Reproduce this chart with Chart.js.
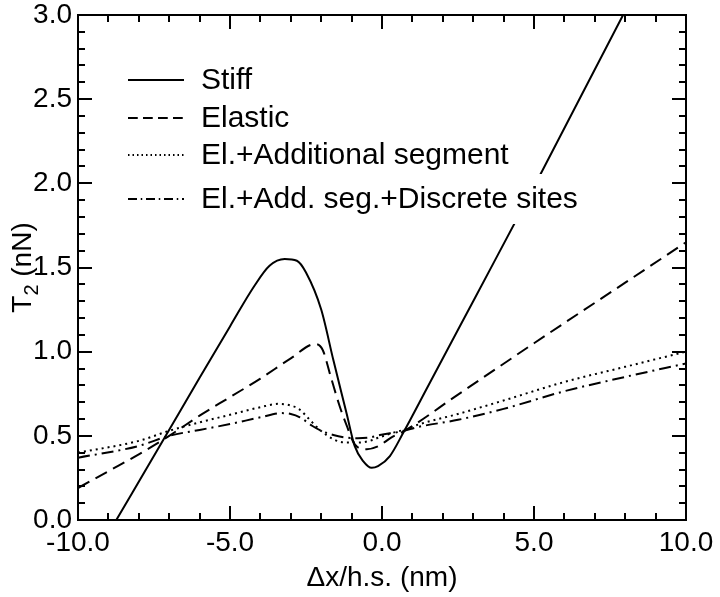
<!DOCTYPE html>
<html lang="en">
<head>
    <meta charset="UTF-8">
    <title>T2 vs dx</title>
    <script src="https://cdn.jsdelivr.net/npm/chart.js@4.4.1/dist/chart.umd.min.js"></script>
    <style>
        body {
            margin: 0;
            background: #ffffff;
        }
        #wrap {
            width: 720px;
            height: 597px;
        }
    </style>
</head>
<body>
    <div id="wrap">
        <canvas id="t2Chart" width="720" height="597"></canvas>
    </div>

    <script>
        // values
        const stiffX = [-8.74, -7.1, -6.0, -5.0, -4.2, -3.7, -3.2, -2.8, -2.5, -2.0, -1.6, -1.16, -0.9, -0.62, -0.34, -0.13, 0.26, 0.69, 1.5, 3.0, 5.0, 7.93, 10.0];
        const stiffY = [0.0, 0.505, 0.845, 1.15, 1.39, 1.51, 1.55, 1.54, 1.47, 1.25, 0.95, 0.63, 0.44, 0.35, 0.31, 0.32, 0.38, 0.515, 0.79, 1.30, 1.98, 3.0, 3.7];

        const elasticX = [-10, -9, -8, -7, -6, -5, -4, -3, -2.2, -1.95, -1.7, -1.4, -1.16, -0.9, -0.5, -0.1, 0.3, 0.7, 2.5, 5, 8, 10];
        const elasticY = [0.19, 0.29, 0.39, 0.50, 0.62, 0.73, 0.84, 0.96, 1.045, 1.01, 0.86, 0.68, 0.56, 0.45, 0.42, 0.44, 0.49, 0.525, 0.745, 1.05, 1.41, 1.65];

        const addSegX = [-10, -8, -7, -6, -5, -4, -3.4, -3.0, -2.7, -2.4, -2.04, -1.6, -1.2, -0.8, -0.4, -0.1, 0.3, 0.7, 1.25, 2.5, 4, 6, 8, 10];
        const addSegY = [0.40, 0.47, 0.53, 0.58, 0.625, 0.67, 0.69, 0.68, 0.655, 0.60, 0.535, 0.48, 0.46, 0.46, 0.47, 0.49, 0.515, 0.535, 0.57, 0.63, 0.71, 0.82, 0.91, 1.0];

        const discreteX = [-10, -8, -7, -6, -5, -4, -3.3, -3.0, -2.7, -2.3, -2.0, -1.6, -1.2, -0.8, -0.4, -0.07, 0.6, 1.25, 2.5, 4, 6, 8, 10];
        const discreteY = [0.37, 0.44, 0.50, 0.535, 0.57, 0.61, 0.635, 0.63, 0.61, 0.56, 0.53, 0.505, 0.49, 0.485, 0.49, 0.505, 0.525, 0.555, 0.595, 0.66, 0.765, 0.85, 0.93];

        const seriesNames = ['Stiff', 'Elastic', 'El.+Additional segment', 'El.+Add. seg.+Discrete sites'];

        const xTickLabels = ['-10.0', '-5.0', '0.0', '5.0', '10.0'];
        const yTickLabels = ['0.0', '0.5', '1.0', '1.5', '2.0', '2.5', '3.0'];

        const FONT = '"Liberation Sans", Arial, Helvetica, sans-serif';

        function toPoints(xs, ys) {
            return xs.map((x, i) => ({ x: x, y: ys[i] }));
        }

        function lineSet(label, xs, ys, dash) {
            return {
                label: label,
                data: toPoints(xs, ys),
                borderColor: '#000000',
                borderWidth: 2,
                borderDash: dash,
                pointRadius: 0,
                fill: false,
                cubicInterpolationMode: 'monotone'
            };
        }

        // inward ticks on all four sides + box frame
        const frameTicks = {
            id: 'frameTicks',
            afterDraw(chart) {
                const ctx = chart.ctx;
                const a = chart.chartArea;
                const xs = chart.scales.x;
                const ys = chart.scales.y;
                ctx.save();
                ctx.strokeStyle = '#000';
                ctx.lineWidth = 2;
                ctx.strokeRect(a.left, a.top, a.right - a.left, a.bottom - a.top);
                ctx.beginPath();
                xs.ticks.forEach(t => {
                    const px = Math.round(xs.getPixelForValue(t.value));
                    const len = Math.abs(t.value % 5) < 1e-6 ? 14 : 7;
                    ctx.moveTo(px, a.bottom);
                    ctx.lineTo(px, a.bottom - len);
                    ctx.moveTo(px, a.top);
                    ctx.lineTo(px, a.top + len);
                });
                ys.ticks.forEach(t => {
                    const py = Math.round(ys.getPixelForValue(t.value));
                    const r = Math.round(t.value * 10);
                    const len = r % 5 === 0 ? 14 : 7;
                    ctx.moveTo(a.left, py);
                    ctx.lineTo(a.left + len, py);
                    ctx.moveTo(a.right, py);
                    ctx.lineTo(a.right - len, py);
                });
                ctx.stroke();
                ctx.restore();
            }
        };

        // y title with a real subscript: T, small 2, (nN)
        const yTitle = {
            id: 'yTitle',
            afterDraw(chart) {
                const ctx = chart.ctx;
                const a = chart.chartArea;
                const big = '28px ' + FONT;
                const small = '20px ' + FONT;
                ctx.save();
                ctx.font = big;
                const wT = ctx.measureText('T').width;
                const wRest = ctx.measureText(' (nN)').width;
                ctx.font = small;
                const w2 = ctx.measureText('2').width;
                const total = wT + w2 + wRest;
                ctx.translate(31, (a.top + a.bottom) / 2);
                ctx.rotate(-Math.PI / 2);
                ctx.fillStyle = '#000';
                ctx.textBaseline = 'alphabetic';
                let x = -total / 2;
                ctx.font = big;
                ctx.fillText('T', x, 0);
                x += wT;
                ctx.font = small;
                ctx.fillText('2', x, 7);
                x += w2;
                ctx.font = big;
                ctx.fillText(' (nN)', x, 0);
                ctx.restore();
            }
        };

        // legend inside the plot, each text on a white box
        const innerLegend = {
            id: 'innerLegend',
            afterDatasetsDraw(chart) {
                const ctx = chart.ctx;
                const rowsY = [80, 118, 155, 199];
                ctx.save();
                ctx.font = '30px ' + FONT;
                ctx.textBaseline = 'middle';
                chart.data.datasets.forEach((ds, i) => {
                    const y = rowsY[i];
                    const w = ctx.measureText(ds.label).width;
                    ctx.fillStyle = '#ffffff';
                    ctx.fillRect(196, y - 25, w + 10, 50);
                    ctx.strokeStyle = ds.borderColor;
                    ctx.lineWidth = 2;
                    ctx.setLineDash(ds.borderDash.map(d => d * 0.75));
                    ctx.beginPath();
                    ctx.moveTo(128, y);
                    ctx.lineTo(184, y);
                    ctx.stroke();
                    ctx.setLineDash([]);
                    ctx.fillStyle = '#000';
                    ctx.fillText(ds.label, 201, y + 1);
                });
                ctx.restore();
            }
        };

        const ctx = document.getElementById('t2Chart').getContext('2d');
        const t2Chart = new Chart(ctx, {
            type: 'line',
            data: {
                datasets: [
                    lineSet(seriesNames[0], stiffX, stiffY, []),
                    lineSet(seriesNames[1], elasticX, elasticY, [13, 7]),
                    lineSet(seriesNames[2], addSegX, addSegY, [2, 4]),
                    lineSet(seriesNames[3], discreteX, discreteY, [12, 5, 2, 5])
                ]
            },
            options: {
                responsive: false,
                animation: false,
                layout: {
                    padding: { left: 0, right: 34, top: 15, bottom: 0 }
                },
                plugins: {
                    legend: { display: false },
                    tooltip: { enabled: false }
                },
                scales: {
                    x: {
                        type: 'linear',
                        min: -10,
                        max: 10,
                        grid: { display: false, drawTicks: false },
                        border: { display: false },
                        ticks: {
                            stepSize: 1,
                            autoSkip: false,
                            maxRotation: 0,
                            padding: 6,
                            color: '#000',
                            font: { family: FONT, size: 28 },
                            callback: v => Math.abs(v % 5) < 1e-6 ? xTickLabels[Math.round((v + 10) / 5)] : ''
                        },
                        title: {
                            display: true,
                            text: '\u0394x/h.s. (nm)',
                            color: '#000',
                            font: { family: FONT, size: 28 },
                            padding: { top: 0, bottom: 2 }
                        },
                        afterFit(scale) {
                            scale.height = 77;
                            scale.paddingLeft = 0;
                            scale.paddingRight = 0;
                        }
                    },
                    y: {
                        min: 0,
                        max: 3,
                        grid: { display: false, drawTicks: false },
                        border: { display: false },
                        ticks: {
                            stepSize: 0.1,
                            autoSkip: false,
                            padding: 6,
                            color: '#000',
                            font: { family: FONT, size: 28 },
                            callback: v => {
                                const r = Math.round(v * 10);
                                return r % 5 === 0 ? yTickLabels[r / 5] : '';
                            }
                        },
                        title: { display: false },
                        afterFit(scale) {
                            scale.width = 78;
                            scale.paddingTop = 0;
                            scale.paddingBottom = 0;
                        }
                    }
                }
            },
            plugins: [frameTicks, yTitle, innerLegend]
        });
    </script>
</body>
</html>
